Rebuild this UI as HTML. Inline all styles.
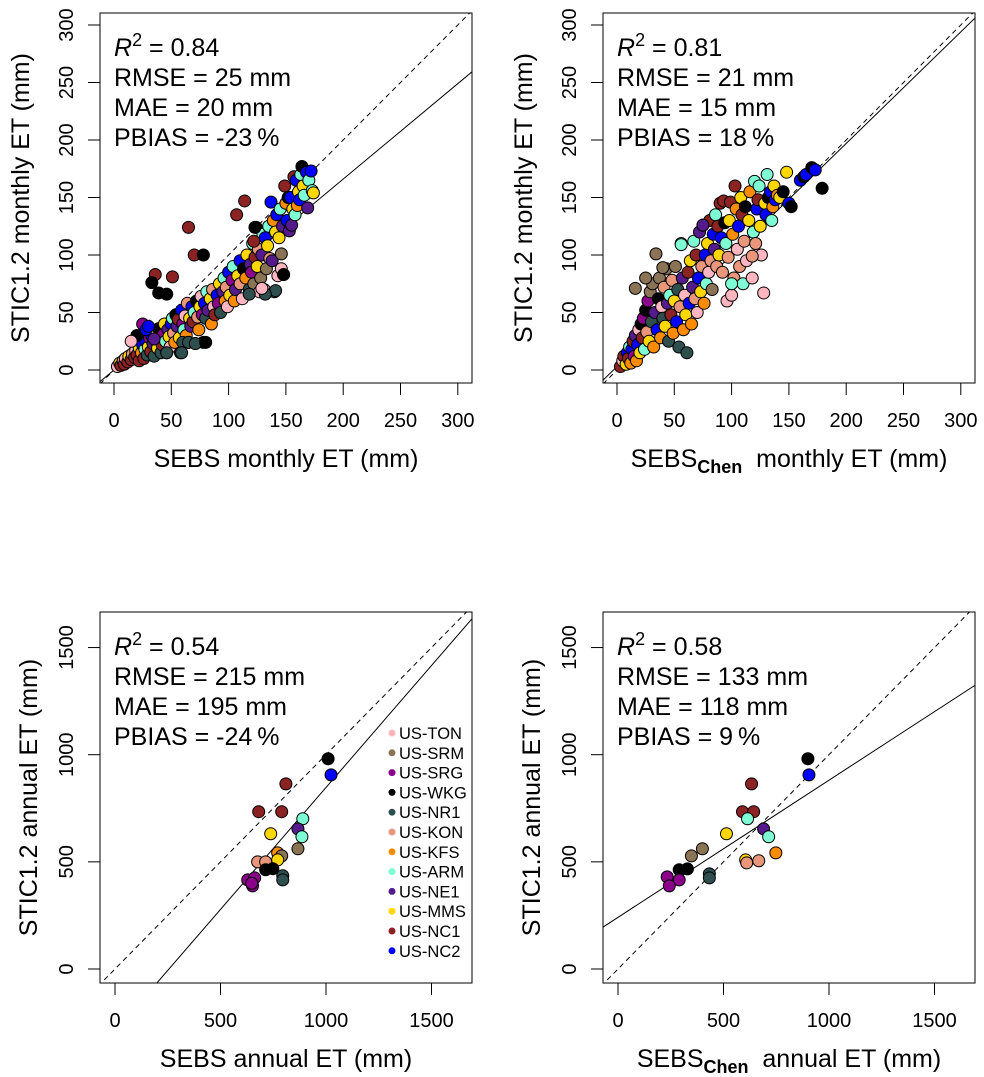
<!DOCTYPE html>
<html><head><meta charset="utf-8"><style>
html,body{margin:0;padding:0;background:#fff;overflow:hidden;width:984px;height:1077px}
svg{display:block;font-family:"Liberation Sans",Arial,sans-serif}
</style></head><body>
<svg id="fig" width="984" height="1077" viewBox="0 0 984 1077" xmlns="http://www.w3.org/2000/svg"></svg>
<script>
const siteNames=["US-TON","US-SRM","US-SRG","US-WKG","US-NR1","US-KON","US-KFS","US-ARM","US-NE1","US-MMS","US-NC1","US-NC2"];
const siteColors=["#FFB6C1","#8B7355","#8B008B","#000000","#2F4F4F","#E9967A","#FF8C00","#7FFFD4","#551A8B","#FFD700","#8B2323","#0000FF"];
const monthlyTicks=[0,50,100,150,200,250,300];
const annualTicks=[0,500,1000,1500];
const statsA=["0.84","25","20","-23"];
const statsB=["0.81","21","15","18"];
const statsC=["0.54","215","195","-24"];
const statsD=["0.58","133","118","9"];
const fitA=[0,0.83];
const fitB=[3,0.97];
const fitC=[-291,1.138];
const fitD=[241,0.64];
const monthlyA=[[3,3,0],[5,6,9],[6,4,10],[8,8,5],[9,5,10],[10,10,0],[12,7,10],[13,12,9],[15,9,10],[16,14,5],[18,11,10],[19,17,0],[20,13,10],[22,8,10],[22,19,9],[24,15,6],[25,22,11],[26,10,10],[27,18,7],[28,25,11],[29,13,4],[30,20,9],[31,28,2],[32,16,10],[33,30,11],[34,23,8],[35,12,4],[36,26,5],[37,33,0],[38,19,9],[39,36,3],[40,28,6],[41,15,4],[42,22,10],[43,31,2],[44,40,9],[45,25,7],[46,15,4],[47,35,8],[48,29,9],[49,20,0],[50,40,11],[51,45,7],[52,32,5],[53,24,6],[54,48,3],[55,38,8],[56,44,10],[57,28,9],[58,15,4],[59,52,11],[60,40,2],[61,35,7],[62,47,0],[63,30,6],[64,58,5],[65,24,4],[66,45,9],[67,38,8],[68,55,11],[69,42,10],[70,50,7],[71,23,4],[72,60,3],[73,46,5],[74,35,6],[75,55,9],[76,64,0],[77,48,2],[78,24,3],[79,58,11],[80,45,4],[81,68,7],[82,52,8],[84,62,9],[85,40,6],[86,70,5],[87,55,0],[88,48,10],[90,65,11],[91,58,2],[92,75,9],[93,50,4],[95,68,8],[96,80,7],[97,60,6],[98,72,5],[99,55,0],[100,85,11],[101,65,9],[103,78,2],[104,90,7],[105,60,6],[106,70,8],[108,82,9],[110,95,11],[110,75,5],[112,62,0],[113,88,3],[115,80,6],[116,100,9],[118,70,4],[119,92,8],[120,85,2],[121,110,7],[122,75,1],[123,98,10],[124,124,3],[125,90,9],[126,105,5],[127,68,0],[128,80,1],[129,100,8],[130,118,7],[131,70,0],[132,115,11],[133,88,1],[134,108,9],[135,125,7],[136,97,5],[137,146,11],[138,95,8],[139,130,6],[140,68,4],[141,120,9],[142,135,11],[143,82,0],[144,115,9],[145,140,7],[146,101,1],[147,125,8],[148,83,3],[149,160,10],[150,145,6],[151,130,11],[152,150,3],[153,121,8],[154,150,11],[155,126,8],[156,140,9],[157,168,10],[158,135,7],[159,165,11],[160,143,6],[161,155,9],[162,148,11],[163,170,7],[164,177,3],[165,160,9],[166,152,7],[168,172,11],[169,141,8],[170,165,7],[172,173,11],[173,156,7],[174,154,9],[36,83,10],[51,81,10],[33,76,3],[39,67,3],[46,66,3],[65,124,10],[70,100,10],[78,100,3],[107,135,10],[114,147,10],[122,112,10],[123,124,3],[141,69,4],[132,66,4],[118,66,4],[129,71,0],[146,88,0],[148,83,3],[60,24,4],[65,24,4],[71,23,4],[80,24,3],[46,15,4],[59,15,4],[25,40,2],[20,30,3],[15,25,0],[28,35,11],[30,38,11],[35,27,8]];
const monthlyB=[[3,3,10],[5,8,0],[6,12,10],[8,5,9],[9,15,11],[10,10,10],[11,20,7],[12,6,6],[13,18,11],[14,25,10],[15,12,2],[16,30,8],[17,8,6],[18,22,11],[19,35,0],[20,15,9],[21,40,3],[22,28,10],[23,45,2],[24,18,7],[25,52,3],[26,33,5],[27,60,2],[28,25,9],[29,68,1],[30,42,4],[31,75,1],[32,20,6],[33,50,8],[34,101,1],[35,35,11],[36,62,3],[37,80,1],[38,28,6],[39,55,0],[40,45,4],[41,72,5],[42,38,9],[43,88,1],[44,58,8],[45,25,4],[46,65,7],[47,48,10],[48,78,5],[49,32,6],[50,60,9],[51,90,1],[52,42,11],[53,70,4],[54,20,4],[55,55,5],[56,110,7],[57,80,8],[58,35,6],[59,65,0],[60,48,9],[61,15,4],[62,85,10],[63,58,11],[64,95,9],[65,40,6],[66,72,8],[67,112,7],[68,62,5],[69,100,10],[70,50,0],[71,80,11],[72,120,8],[73,68,9],[74,90,5],[75,126,8],[76,58,6],[77,100,11],[78,75,7],[79,110,9],[80,85,0],[81,130,10],[82,95,5],[83,70,1],[84,118,11],[85,105,8],[86,135,7],[87,90,5],[88,125,10],[89,100,9],[90,145,10],[91,115,11],[92,85,5],[93,147,10],[94,128,3],[95,110,7],[96,60,0],[97,98,5],[98,130,9],[99,146,10],[100,65,0],[101,118,6],[102,80,5],[103,160,10],[104,140,6],[105,105,0],[106,125,11],[107,90,5],[108,150,9],[109,135,10],[110,75,7],[111,112,5],[112,142,3],[113,95,0],[115,130,9],[116,155,6],[118,80,0],[119,120,7],[120,164,7],[121,110,5],[122,140,11],[123,148,10],[124,160,7],[125,125,9],[126,100,0],[128,67,0],[129,145,9],[130,135,11],[131,170,7],[132,150,3],[134,155,11],[135,130,7],[136,142,6],[137,160,9],[138,148,11],[140,152,6],[142,150,9],[145,155,3],[148,172,9],[150,145,11],[152,142,3],[160,165,11],[163,168,3],[165,170,11],[170,176,3],[173,174,11],[179,158,3],[118,99,5],[100,75,7],[16,71,1],[25,80,1],[40,89,1],[56,109,7],[75,126,8]];
const annualC=[[1010,981,3],[1024,906,11],[810,864,10],[681,734,10],[790,734,10],[890,701,7],[867,654,8],[886,617,7],[738,631,9],[867,561,1],[771,542,6],[790,528,1],[771,509,9],[676,500,5],[714,500,5],[714,463,3],[748,468,3],[795,435,4],[795,416,4],[629,416,2],[662,425,2],[652,388,2],[648,400,2]];
const annualD=[[900,981,3],[905,906,11],[633,864,10],[590,734,10],[643,734,10],[614,701,7],[690,654,8],[714,617,7],[514,631,9],[748,542,6],[400,561,1],[348,528,1],[605,509,9],[610,495,5],[667,505,5],[290,463,3],[329,467,3],[433,444,4],[433,425,4],[233,430,2],[290,416,2],[243,388,2]];

const svg=document.getElementById('fig');
const NS='http://www.w3.org/2000/svg';
function mk(tag,attrs,parent){const e=document.createElementNS(NS,tag);for(const k in attrs)e.setAttribute(k,attrs[k]);(parent||svg).appendChild(e);return e;}

const panels=[
 {id:'a',box:[100,13,472,383],x0:114,xs:1.146,y0:370,ys:1.15,ticks:monthlyTicks,pts:monthlyA,fit:fitA,stats:statsA,xl:'SEBS',yl:'STIC1.2 monthly ET (mm)',kind:'monthly',legend:false,ylx:20},
 {id:'b',box:[603,13,975,383],x0:617,xs:1.146,y0:370,ys:1.15,ticks:monthlyTicks,pts:monthlyB,fit:fitB,stats:statsB,xl:'CHEN',yl:'STIC1.2 monthly ET (mm)',kind:'monthly',legend:false,ylx:523},
 {id:'c',box:[100,612,472,983],x0:115,xs:0.211,y0:969,ys:0.2143,ticks:annualTicks,pts:annualC,fit:fitC,stats:statsC,xl:'SEBS',yl:'STIC1.2 annual ET (mm)',kind:'annual',legend:true,ylx:28},
 {id:'d',box:[603,612,975,983],x0:618,xs:0.211,y0:969,ys:0.2143,ticks:annualTicks,pts:annualD,fit:fitD,stats:statsD,xl:'CHEN',yl:'STIC1.2 annual ET (mm)',kind:'annual',legend:false,ylx:531}
];

panels.forEach(p=>{
 const [L,T,R,B]=p.box;
 const X=v=>p.x0+v*p.xs, Y=v=>p.y0-v*p.ys;
 const g=mk('g',{});
 
 
 const cp=mk('clipPath',{id:'clip'+p.id},g);
 mk('rect',{x:L,y:T,width:R-L,height:B-T},cp);
 p.ticks.forEach(t=>{
  const xt=mk('line',{x1:X(t),x2:X(t),y1:B,y2:B+12,stroke:'#000','stroke-width':1},g);
  
  
  const xl=mk('text',{x:X(t),y:B+44,'text-anchor':'middle','font-size':20},g);
  
  
  xl.textContent=t;
  const yt=mk('line',{x1:L-12,x2:L,y1:Y(t),y2:Y(t),stroke:'#000','stroke-width':1},g);
  
  
  const yl=mk('text',{x:0,y:0,'text-anchor':'middle','font-size':20,transform:`translate(${L-27},${Y(t)}) rotate(-90)`},g);
  
  
  yl.textContent=t;
 });
 const lo=-500,hi=5000;
 const one=mk('line',{x1:X(lo),y1:Y(lo),x2:X(hi),y2:Y(hi),stroke:'#000','stroke-width':1,'stroke-dasharray':'5,4','clip-path':`url(#clip${p.id})`},g);
 
 
 const fl=mk('line',{x1:X(lo),y1:Y(p.fit[0]+p.fit[1]*lo),x2:X(hi),y2:Y(p.fit[0]+p.fit[1]*hi),stroke:'#000','stroke-width':1,'clip-path':`url(#clip${p.id})`},g);
 
 
 const pg=mk('g',{'clip-path':`url(#clip${p.id})`},g);
 p.pts.forEach(d=>{
  const c=mk('circle',{cx:X(d[0]),cy:Y(d[1]),r:6,fill:siteColors[d[2]],stroke:'#000','stroke-width':1},pg);
  
  
 });
 const bx=mk('rect',{x:L,y:T,width:R-L,height:B-T,fill:'none',stroke:'#000','stroke-width':1},g);
 
 
 const sx=L+14, sy=T+43;
 const s1=mk('text',{x:sx,y:sy,'font-size':25},g);
 
 
 s1.innerHTML=`<tspan font-style="italic">R</tspan><tspan dy="-10" font-size="18">2</tspan><tspan dy="10"> = ${p.stats[0]}</tspan>`;
 const lines=[`RMSE = ${p.stats[1]} mm`,`MAE = ${p.stats[2]} mm`,`PBIAS = ${p.stats[3]}\u2009%`];
 const nm=['rmse-label','mae-label','pbias-label'];
 lines.forEach((s,i)=>{
  const t=mk('text',{x:sx,y:sy+30*(i+1),'font-size':25},g);
  
  
  t.textContent=s;
 });
 const cx=(L+R)/2;
 const xt=mk('text',{x:cx,y:B+84,'text-anchor':'middle','font-size':25},g);
 
 
 const unit=p.kind==='monthly'?' monthly ET (mm)':' annual ET (mm)';
 if(p.xl==='SEBS') xt.textContent='SEBS'+unit;
 else xt.innerHTML=`SEBS<tspan dy="6" font-size="18" font-weight="bold">Chen</tspan><tspan dy="-6">${'\u00a0'+unit}</tspan>`;
 const yt=mk('text',{x:0,y:0,'text-anchor':'middle','font-size':25,transform:`translate(${p.ylx+9},${(T+B)/2}) rotate(-90)`},g);
 
 
 yt.textContent=p.yl;
 if(p.legend){
  const lg=mk('g',{},g);
  
  
  siteNames.forEach((n,i)=>{
   const ey=733+i*19.8;
   const e=mk('g',{},lg);
   
   
   mk('circle',{cx:392,cy:ey,r:3.5,fill:siteColors[i]},e);
   const t=mk('text',{x:399,y:ey+6,'font-size':16.5},e);
   t.textContent=n;
  });
 }
});
</script>
</body></html>
